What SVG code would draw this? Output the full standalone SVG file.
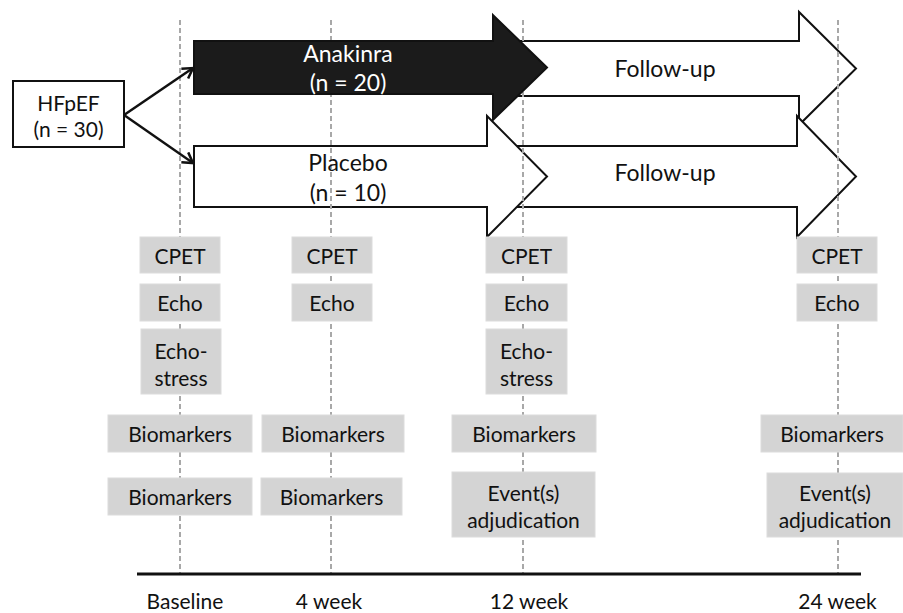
<svg xmlns="http://www.w3.org/2000/svg" width="903" height="613" viewBox="0 0 903 613">
<defs>
<style>
text{font-family:Lato,"Liberation Sans",sans-serif;fill:#111;text-anchor:middle;dominant-baseline:central}
.big{font-size:23px}
.med{font-size:21px}
.box rect{fill:#d4d4d4;stroke:#dcdcdc;stroke-width:1}
.box text{font-size:21px}
.arr{fill:#fff;stroke:#111;stroke-width:2;stroke-linejoin:miter}
.grid{stroke:#a8a8a8;stroke-width:2;stroke-dasharray:5 3}
.conn{stroke:#111;stroke-width:2.5;fill:none}
</style>
<marker id="ah" markerUnits="userSpaceOnUse" markerWidth="14" markerHeight="14" viewBox="0 0 14 14" refX="12" refY="7" orient="auto">
<path d="M2,1 L12,7 L2,13" fill="none" stroke="#111" stroke-width="2.5"/>
</marker>
</defs>
<rect width="903" height="613" fill="#fff"/>

<g id="followup-top">
<polygon class="arr" points="518,41 799,41 799,12 856,68.5 799,125 799,96 518,96"/>
</g>
<g id="followup-bottom">
<polygon class="arr" points="515,146 797,146 797,116 856,176.5 797,237 797,207 515,207"/>
</g>
<g id="placebo">
<polygon class="arr" points="194,146 487,146 487,116 547,176.5 487,237 487,207 194,207"/>
</g>

<g id="gridlines">
<line class="grid" x1="180" y1="20" x2="180" y2="573"/>
<line class="grid" x1="331" y1="20" x2="331" y2="573"/>
<line class="grid" x1="523" y1="20" x2="523" y2="573"/>
<line class="grid" x1="838" y1="20" x2="838" y2="573"/>
</g>

<g id="anakinra">
<polygon points="194,41 493,41 493,15 547,67.5 493,120 493,94 194,94" fill="#1b1b1b" stroke="#111" stroke-width="2"/>
<text class="big" x="348" y="53" style="fill:#fff">Anakinra</text>
<text class="big" x="348" y="82" style="fill:#fff">(n = 20)</text>
</g>
<g id="placebo-label">
<text class="big" x="348" y="162">Placebo</text>
<text class="big" x="348" y="192">(n = 10)</text>
</g>
<g id="followup-labels">
<text class="big" x="665" y="68">Follow-up</text>
<text class="big" x="665" y="172">Follow-up</text>
</g>

<g id="hfpef">
<rect x="13" y="81" width="111" height="66" fill="#fff" stroke="#111" stroke-width="2"/>
<text class="med" x="68.5" y="102">HFpEF</text>
<text class="med" x="68.5" y="128">(n = 30)</text>
</g>

<g id="connectors">
<line class="conn" x1="124" y1="115" x2="193" y2="68" marker-end="url(#ah)"/>
<line class="conn" x1="124" y1="115" x2="193" y2="163" marker-end="url(#ah)"/>
</g>

<g id="baseline-col" class="box">
<g id="b-cpet"><rect x="140" y="237" width="80" height="36"/><text x="180" y="255">CPET</text></g>
<g id="b-echo"><rect x="140" y="284" width="80" height="37"/><text x="180" y="302.5">Echo</text></g>
<g id="b-stress"><rect x="141" y="329" width="80" height="65"/><text x="181" y="350">Echo-</text><text x="181" y="377">stress</text></g>
<g id="b-bio1"><rect x="108" y="415" width="144" height="37"/><text x="180" y="433.5">Biomarkers</text></g>
<g id="b-bio2"><rect x="108" y="478" width="144" height="37"/><text x="180" y="496.5">Biomarkers</text></g>
</g>
<g id="week4-col" class="box">
<g id="w4-cpet"><rect x="292" y="237" width="80" height="36"/><text x="332" y="255">CPET</text></g>
<g id="w4-echo"><rect x="292" y="284" width="80" height="37"/><text x="332" y="302.5">Echo</text></g>
<g id="w4-bio1"><rect x="262" y="415" width="142" height="37"/><text x="333" y="433.5">Biomarkers</text></g>
<g id="w4-bio2"><rect x="261" y="478" width="141" height="37"/><text x="331.5" y="496.5">Biomarkers</text></g>
</g>
<g id="week12-col" class="box">
<g id="w12-cpet"><rect x="486" y="237" width="81" height="36"/><text x="526.5" y="255">CPET</text></g>
<g id="w12-echo"><rect x="486" y="284" width="81" height="37"/><text x="526.5" y="302.5">Echo</text></g>
<g id="w12-stress"><rect x="486" y="329" width="81" height="65"/><text x="526.5" y="350">Echo-</text><text x="526.5" y="377">stress</text></g>
<g id="w12-bio"><rect x="452" y="415" width="144" height="37"/><text x="524" y="433.5">Biomarkers</text></g>
<g id="w12-event"><rect x="452" y="472" width="143" height="65"/><text x="523.5" y="492">Event(s)</text><text x="523.5" y="519">adjudication</text></g>
</g>
<g id="week24-col" class="box">
<g id="w24-cpet"><rect x="797" y="237" width="80" height="36"/><text x="837" y="255">CPET</text></g>
<g id="w24-echo"><rect x="797" y="284" width="80" height="37"/><text x="837" y="302.5">Echo</text></g>
<g id="w24-bio"><rect x="761" y="415" width="142" height="37"/><text x="832" y="433.5">Biomarkers</text></g>
<g id="w24-event"><rect x="767" y="473" width="136" height="64"/><text x="835" y="492">Event(s)</text><text x="835" y="519">adjudication</text></g>
</g>

<g id="axis">
<line x1="137" y1="574" x2="861" y2="574" stroke="#111" stroke-width="3"/>
<text class="med" x="185" y="600">Baseline</text>
<text class="med" x="329" y="600">4 week</text>
<text class="med" x="529" y="600">12 week</text>
<text class="med" x="837.5" y="600">24 week</text>
</g>
</svg>
